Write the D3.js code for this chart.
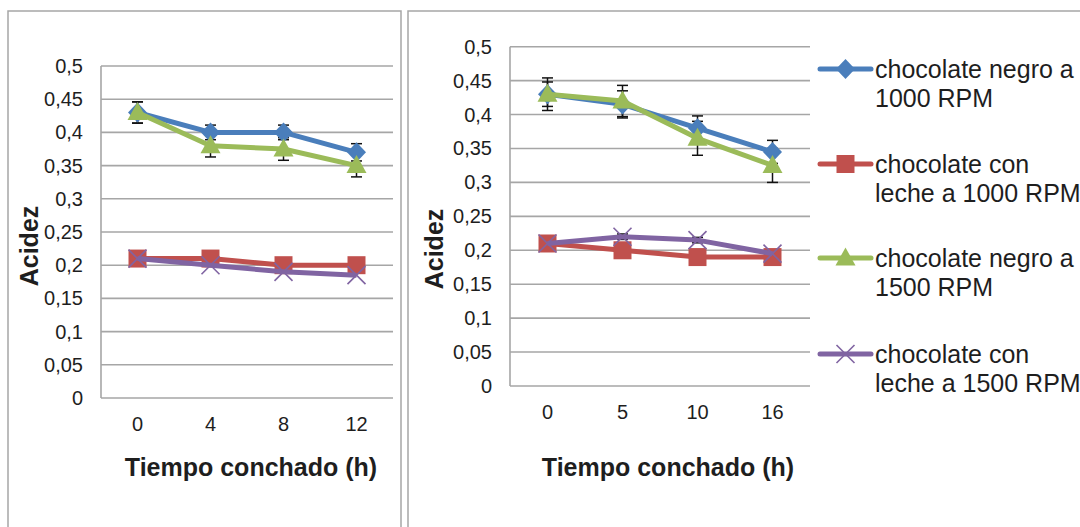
<!DOCTYPE html>
<html>
<head>
<meta charset="utf-8">
<script src="https://cdn.jsdelivr.net/npm/d3@7"></script>
<style>
  body { margin: 0; background: #fff; }
  text { font-family: "Liberation Sans", Arial, sans-serif; fill: #1e1e1e; }
</style>
</head>
<body>
<div id="chart"></div>
<script>
// series names + colours
var seriesNames = ["chocolate negro a 1000 RPM", "chocolate con leche a 1000 RPM",
  "chocolate negro a 1500 RPM", "chocolate con leche a 1500 RPM"];
var legendLines = [["chocolate negro a", "1000 RPM"], ["chocolate con", "leche a 1000 RPM"],
  ["chocolate negro a", "1500 RPM"], ["chocolate con", "leche a 1500 RPM"]];
var colors = ["#4a7ebb", "#c0504d", "#9bbb59", "#8064a2"];
var markers = ["diamond", "square", "triangle", "x"];

var yTicks = [0, 0.05, 0.1, 0.15, 0.2, 0.25, 0.3, 0.35, 0.4, 0.45, 0.5];

// left chart
var leftTimes = ["0", "4", "8", "12"];
var leftNegro1000 = [0.43, 0.40, 0.40, 0.37];
var leftNegro1000Err = [0.016, 0.011, 0.011, 0.013];
var leftLeche1000 = [0.21, 0.21, 0.20, 0.20];
var leftNegro1500 = [0.43, 0.38, 0.375, 0.35];
var leftNegro1500Err = [0.016, 0.017, 0.017, 0.017];
var leftLeche1500 = [0.21, 0.20, 0.19, 0.185];

// right chart
var rightTimes = ["0", "5", "10", "16"];
var rightNegro1000 = [0.43, 0.415, 0.38, 0.345];
var rightNegro1000Err = [0.024, 0.02, 0.018, 0.017];
var rightLeche1000 = [0.21, 0.20, 0.19, 0.19];
var rightNegro1500 = [0.43, 0.42, 0.365, 0.325];
var rightNegro1500Err = [0.018, 0.023, 0.025, 0.025];
var rightLeche1500 = [0.21, 0.22, 0.215, 0.195];
var rightLeche1500Err = [0.004, 0.004, 0.004, 0.003];

var svg = d3.select("#chart").append("svg")
  .attr("width", 1080)
  .attr("height", 527);

// panel frames
svg.append("rect").attr("x", 8).attr("y", 11).attr("width", 393).attr("height", 540)
  .attr("fill", "none").attr("stroke", "#a6a6a6").attr("stroke-width", 1.5);
svg.append("rect").attr("x", 408).attr("y", 11).attr("width", 700).attr("height", 540)
  .attr("fill", "none").attr("stroke", "#a6a6a6").attr("stroke-width", 1.5);

function markerPath(type) {
  if (type === "diamond") return "M0,-10L9.5,0L0,10L-9.5,0Z";
  if (type === "square") return "M-9,-9H9V9H-9Z";
  if (type === "triangle") return "M0,-10.5L10,7.5L-10,7.5Z";
  return "M-9,-9L9,9M-9,9L9,-9";
}

function drawMarker(g, type, color, x, y) {
  var p = g.append("path")
    .attr("d", markerPath(type))
    .attr("transform", `translate(${x},${y})`);
  if (type === "x") {
    p.attr("fill", "none").attr("stroke", color).attr("stroke-width", 1.6);
  } else {
    p.attr("fill", color);
  }
}

function fmt(v) {
  return d3.format(".2~f")(v).replace(".", ",");
}

function drawPanel(cfg) {
  var g = svg.append("g");

  var x = d3.scalePoint()
    .domain(cfg.times)
    .range([cfg.x0, cfg.x1])
    .padding(0.5);

  var y = d3.scaleLinear()
    .domain([0, 0.5])
    .range([cfg.y1, cfg.y0]);

  // gridlines
  g.selectAll(".grid")
    .data(yTicks)
    .enter()
    .append("line")
    .attr("x1", cfg.x0)
    .attr("x2", cfg.x1)
    .attr("y1", d => y(d))
    .attr("y2", d => y(d))
    .attr("stroke", "#a6a6a6")
    .attr("stroke-width", 1.6);

  // y axis line
  g.append("line")
    .attr("x1", cfg.x0).attr("x2", cfg.x0)
    .attr("y1", cfg.y0).attr("y2", cfg.y1)
    .attr("stroke", "#a6a6a6").attr("stroke-width", 1.6);

  // y tick labels
  g.selectAll(".ylab")
    .data(yTicks)
    .enter()
    .append("text")
    .attr("x", cfg.x0 - 18)
    .attr("y", d => y(d))
    .attr("dy", "0.35em")
    .attr("text-anchor", "end")
    .attr("font-size", "20px")
    .text(d => fmt(d));

  // x tick labels
  g.selectAll(".xlab")
    .data(cfg.times)
    .enter()
    .append("text")
    .attr("x", d => x(d))
    .attr("y", cfg.y1 + 26)
    .attr("dy", "0.35em")
    .attr("text-anchor", "middle")
    .attr("font-size", "20px")
    .text(d => d);

  // axis titles
  g.append("text")
    .attr("x", cfg.titleX)
    .attr("y", 467)
    .attr("dy", "0.35em")
    .attr("text-anchor", "middle")
    .attr("font-size", "25px")
    .attr("font-weight", "bold")
    .text("Tiempo conchado (h)");

  g.append("text")
    .attr("transform", `translate(${cfg.ylabX}, ${cfg.ylabY}) rotate(-90)`)
    .attr("dy", "0.35em")
    .attr("text-anchor", "middle")
    .attr("font-size", "25px")
    .attr("font-weight", "bold")
    .text("Acidez");

  // error bars first, behind the lines
  cfg.series.forEach(function(s) {
    if (!s.err) return;
    s.values.forEach(function(v, i) {
      var cx = x(cfg.times[i]);
      var top = y(v + s.err[i]);
      var bot = y(v - s.err[i]);
      g.append("line").attr("x1", cx).attr("x2", cx).attr("y1", top).attr("y2", bot)
        .attr("stroke", "#111").attr("stroke-width", 1.5);
      [top, bot].forEach(function(yy) {
        g.append("line").attr("x1", cx - 5.5).attr("x2", cx + 5.5).attr("y1", yy).attr("y2", yy)
          .attr("stroke", "#111").attr("stroke-width", 1.5);
      });
    });
  });

  var line = d3.line()
    .x((d, i) => x(cfg.times[i]))
    .y(d => y(d));

  cfg.series.forEach(function(s, k) {
    g.append("path")
      .datum(s.values)
      .attr("d", line)
      .attr("fill", "none")
      .attr("stroke", colors[k])
      .attr("stroke-width", 5)
      .attr("stroke-linejoin", "round");
    s.values.forEach(function(v, i) {
      drawMarker(g, markers[k], colors[k], x(cfg.times[i]), y(v));
    });
  });
}

drawPanel({
  times: leftTimes,
  x0: 101, x1: 393, y0: 66, y1: 398,
  titleX: 251, ylabX: 29, ylabY: 246,
  series: [
    { values: leftNegro1000, err: leftNegro1000Err },
    { values: leftLeche1000 },
    { values: leftNegro1500, err: leftNegro1500Err },
    { values: leftLeche1500 }
  ]
});

drawPanel({
  times: rightTimes,
  x0: 510, x1: 810, y0: 46.7, y1: 386,
  titleX: 668, ylabX: 434, ylabY: 249,
  series: [
    { values: rightNegro1000, err: rightNegro1000Err },
    { values: rightLeche1000 },
    { values: rightNegro1500, err: rightNegro1500Err },
    { values: rightLeche1500, err: rightLeche1500Err }
  ]
});

// legend
var legendY = [69, 164, 258, 354];
var legend = svg.append("g");
seriesNames.forEach(function(name, k) {
  var ly = legendY[k];
  legend.append("line")
    .attr("x1", 820).attr("x2", 871)
    .attr("y1", ly).attr("y2", ly)
    .attr("stroke", colors[k]).attr("stroke-width", 5)
    .attr("stroke-linecap", "round");
  drawMarker(legend, markers[k], colors[k], 845.5, ly);
  legendLines[k].forEach(function(t, j) {
    legend.append("text")
      .attr("x", 875)
      .attr("y", ly + j * 29.5)
      .attr("dy", "0.35em")
      .attr("font-size", "25px")
      .text(t);
  });
});
</script>
</body>
</html>
